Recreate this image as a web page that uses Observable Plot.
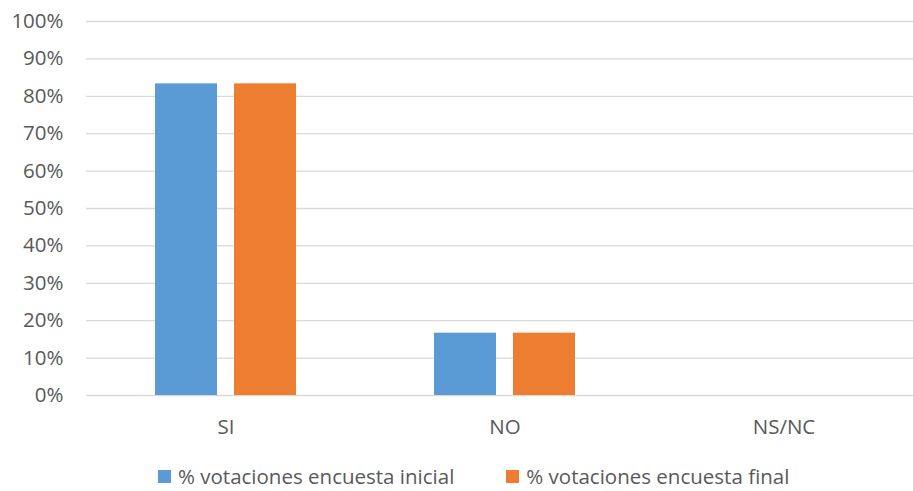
<!DOCTYPE html>
<html>
<head>
<meta charset="utf-8">
<script src="https://cdn.jsdelivr.net/npm/d3@7"></script>
<script src="https://cdn.jsdelivr.net/npm/@observablehq/plot@0.6"></script>
<style>
  html, body { margin: 0; padding: 0; background: #fff; overflow: hidden; }
  #wrap { width: 913px; overflow: hidden; }
  #chart svg { max-width: none !important; display: block; }
  .legend { display: flex; align-items: center; font-family: "Open Sans", sans-serif; font-size: 20.5px; line-height: 20px; color: #595959; padding-left: 158px; height: 48px; }
  .legend .item { display: flex; align-items: center; margin-right: 52px; }
  .legend .sw { width: 13px; height: 13px; margin-right: 7px; }
</style>
</head>
<body>
<div id="wrap">
  <div id="chart"></div>
  <div class="legend" id="legend"></div>
</div>
<script>
const categories = ["SI", "NO", "NS/NC"];
const series = ["% votaciones encuesta inicial", "% votaciones encuesta final"];
const inicial = [0.8333, 0.1667, 0];
const final = [0.8333, 0.1667, 0];
const yTicks = [0, 0.1, 0.2, 0.3, 0.4, 0.5, 0.6, 0.7, 0.8, 0.9, 1.0];
const colors = ["#5B9BD5", "#ED7D31"];

const data = [];
categories.forEach((c, i) => {
  data.push({category: c, series: series[0], value: inicial[i]});
  data.push({category: c, series: series[1], value: final[i]});
});

const chart = Plot.plot({
  width: 923,
  height: 452,
  marginLeft: 86,
  marginRight: 0,
  marginTop: 21,
  marginBottom: 57,
  style: {fontFamily: "'Open Sans', sans-serif", fontSize: "20.5px", color: "#595959", background: "#fff"},
  facet: {data, x: "category", marginTop: 0, marginBottom: 0, marginLeft: 0, marginRight: 0},
  fx: {domain: categories, axis: "bottom", label: null, tickSize: 0, tickPadding: 24, padding: 0},
  x: {domain: series, axis: null, paddingInner: 0.214, paddingOuter: 0.862},
  y: {domain: [0, 1], ticks: yTicks, tickFormat: d3.format(".0%"), tickSize: 0, tickPadding: 23, label: null},
  color: {domain: series, range: colors},
  marks: [
    Plot.ruleY(yTicks, {stroke: "#d9d9d9", strokeWidth: 1.3}),
    Plot.barY(data, {x: "series", y: "value", fill: "series", inset: 0})
  ]
});
document.getElementById("chart").appendChild(chart);

const legend = document.getElementById("legend");
series.forEach((s, i) => {
  const item = document.createElement("div");
  item.className = "item";
  const sw = document.createElement("div");
  sw.className = "sw";
  sw.style.background = colors[i];
  const t = document.createElement("span");
  t.textContent = s;
  item.appendChild(sw);
  item.appendChild(t);
  legend.appendChild(item);
});
</script>
</body>
</html>
